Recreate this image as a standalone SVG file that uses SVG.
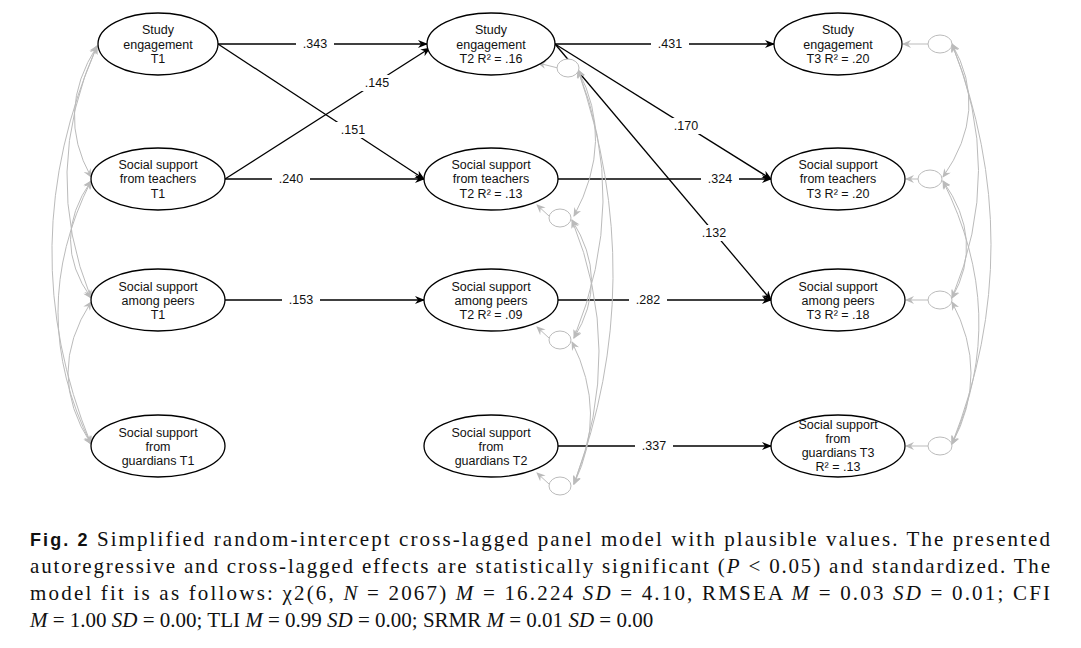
<svg xmlns="http://www.w3.org/2000/svg" width="1081" height="648" viewBox="0 0 1081 648">
<style>
.n{fill:#fff;stroke:#000;stroke-width:1.3}
.t{font-family:"Liberation Sans",Arial,sans-serif;font-size:12.5px;fill:#111;text-anchor:middle}
.p{stroke:#000;stroke-width:1.3;fill:none;marker-end:url(#a)}
.c{stroke:#bbb;stroke-width:1;fill:none;marker-end:url(#g);marker-start:url(#gs)}
.r{fill:#fff;stroke:#bbb;stroke-width:1}
.ra{stroke:#bbb;stroke-width:1;fill:none;marker-end:url(#g)}
.l{font-family:"Liberation Sans",Arial,sans-serif;font-size:12.5px;fill:#111;text-anchor:middle}
.cap{font-family:"Liberation Serif","Times New Roman",serif;font-size:21px;fill:#111}
</style>
<defs>
<marker id="a" markerWidth="10" markerHeight="8" refX="9" refY="4" orient="auto" markerUnits="userSpaceOnUse"><path d="M0,0L10,4L0,8L3,4Z" fill="#000"/></marker>
<marker id="g" markerWidth="9" markerHeight="8" refX="8" refY="4" orient="auto" markerUnits="userSpaceOnUse"><path d="M0,0L9,4L0,8L3,4Z" fill="#bbb"/></marker>
<marker id="gs" markerWidth="9" markerHeight="8" refX="1" refY="4" orient="auto" markerUnits="userSpaceOnUse"><path d="M9,0L0,4L9,8L6,4Z" fill="#bbb"/></marker>
</defs>
<g id="connectors">
<path class="p" d="M218,44H427"/>
<path class="p" d="M218,44L424,179"/>
<path class="p" d="M225,179L430,48"/>
<path class="p" d="M225,179H424"/>
<path class="p" d="M225,300H424"/>
<path class="p" d="M555,44H774"/>
<path class="p" d="M555,44L771,179"/>
<path class="p" d="M555,44L771,300"/>
<path class="p" d="M558,179H771"/>
<path class="p" d="M558,300H771"/>
<path class="p" d="M558,446H771"/>
<g fill="#fff">
<rect x="296" y="36" width="38" height="16"/><rect x="335" y="122" width="36" height="16"/><rect x="359" y="75" width="36" height="16"/>
<rect x="272" y="171" width="38" height="16"/><rect x="282" y="292" width="38" height="16"/><rect x="651" y="36" width="38" height="16"/>
<rect x="668" y="118" width="36" height="16"/><rect x="696" y="225" width="36" height="16"/><rect x="701" y="171" width="38" height="16"/>
<rect x="629" y="292" width="38" height="16"/><rect x="635" y="438" width="38" height="16"/>
</g>
<text class="l" x="315" y="48">.343</text><text class="l" x="353" y="134">.151</text><text class="l" x="377" y="87">.145</text>
<text class="l" x="291" y="183">.240</text><text class="l" x="301" y="304">.153</text><text class="l" x="670" y="48">.431</text>
<text class="l" x="686" y="130">.170</text><text class="l" x="714" y="237">.132</text><text class="l" x="720" y="183">.324</text>
<text class="l" x="648" y="304">.282</text><text class="l" x="654" y="450">.337</text>
<path class="c" d="M97,46Q55,112 91,177"/>
<path class="c" d="M97,46Q40,172 91,298"/>
<path class="c" d="M97,46Q10,246 91,444"/>
<path class="c" d="M91,181Q50,240 91,298"/>
<path class="c" d="M91,181Q25,312 91,444"/>
<path class="c" d="M91,302Q45,373 91,444"/>
<path class="c" d="M578,70Q615,140 574,216"/>
<path class="c" d="M578,70Q630,200 574,338"/>
<path class="c" d="M578,70Q650,280 574,484"/>
<path class="c" d="M572,220Q610,280 574,338"/>
<path class="c" d="M572,220Q625,350 574,484"/>
<path class="c" d="M572,342Q608,413 574,484"/>
<path class="c" d="M952,44Q990,110 943,177"/>
<path class="c" d="M952,44Q1005,170 952,298"/>
<path class="c" d="M952,44Q1030,245 952,444"/>
<path class="c" d="M943,181Q985,240 952,298"/>
<path class="c" d="M943,181Q1010,315 952,444"/>
<path class="c" d="M952,302Q990,373 952,444"/>
</g>
<g id="residuals">
<path class="ra" d="M558,68L538,63"/><ellipse class="r" cx="568" cy="68" rx="11" ry="9"/>
<path class="ra" d="M549,216L537,205"/><ellipse class="r" cx="560" cy="218" rx="11" ry="9"/>
<path class="ra" d="M549,338L537,327"/><ellipse class="r" cx="560" cy="340" rx="11" ry="9"/>
<path class="ra" d="M549,484L537,473"/><ellipse class="r" cx="560" cy="486" rx="11" ry="9"/>
<path class="ra" d="M928,44H903"/><ellipse class="r" cx="940" cy="44" rx="12" ry="9"/>
<path class="ra" d="M918,179H906"/><ellipse class="r" cx="930" cy="179" rx="12" ry="9"/>
<path class="ra" d="M928,300H906"/><ellipse class="r" cx="940" cy="300" rx="12" ry="9"/>
<path class="ra" d="M928,446H906"/><ellipse class="r" cx="940" cy="446" rx="12" ry="9"/>
</g>
<g id="se1"><ellipse class="n" cx="158" cy="44" rx="60" ry="31"/><text class="t" x="158" y="34">Study</text><text class="t" x="158" y="49">engagement</text><text class="t" x="158" y="63">T1</text></g>
<g id="te1"><ellipse class="n" cx="158" cy="179" rx="67" ry="31"/><text class="t" x="158" y="169">Social support</text><text class="t" x="158" y="183">from teachers</text><text class="t" x="158" y="198">T1</text></g>
<g id="pe1"><ellipse class="n" cx="158" cy="300" rx="67" ry="31"/><text class="t" x="158" y="291">Social support</text><text class="t" x="158" y="305">among peers</text><text class="t" x="158" y="319">T1</text></g>
<g id="gu1"><ellipse class="n" cx="158" cy="446" rx="67" ry="31"/><text class="t" x="158" y="437">Social support</text><text class="t" x="158" y="451">from</text><text class="t" x="158" y="465">guardians T1</text></g>
<g id="se2"><ellipse class="n" cx="491" cy="44" rx="64" ry="31"/><text class="t" x="491" y="34">Study</text><text class="t" x="491" y="49">engagement</text><text class="t" x="491" y="63">T2 R² = .16</text></g>
<g id="te2"><ellipse class="n" cx="491" cy="179" rx="67" ry="31"/><text class="t" x="491" y="169">Social support</text><text class="t" x="491" y="183">from teachers</text><text class="t" x="491" y="198">T2 R² = .13</text></g>
<g id="pe2"><ellipse class="n" cx="491" cy="300" rx="67" ry="31"/><text class="t" x="491" y="291">Social support</text><text class="t" x="491" y="305">among peers</text><text class="t" x="491" y="319">T2 R² = .09</text></g>
<g id="gu2"><ellipse class="n" cx="491" cy="446" rx="67" ry="31"/><text class="t" x="491" y="437">Social support</text><text class="t" x="491" y="451">from</text><text class="t" x="491" y="465">guardians T2</text></g>
<g id="se3"><ellipse class="n" cx="838" cy="44" rx="64" ry="31"/><text class="t" x="838" y="34">Study</text><text class="t" x="838" y="49">engagement</text><text class="t" x="838" y="63">T3 R² = .20</text></g>
<g id="te3"><ellipse class="n" cx="838" cy="179" rx="67" ry="31"/><text class="t" x="838" y="169">Social support</text><text class="t" x="838" y="183">from teachers</text><text class="t" x="838" y="198">T3 R² = .20</text></g>
<g id="pe3"><ellipse class="n" cx="838" cy="300" rx="67" ry="31"/><text class="t" x="838" y="291">Social support</text><text class="t" x="838" y="305">among peers</text><text class="t" x="838" y="319">T3 R² = .18</text></g>
<g id="gu3"><ellipse class="n" cx="838" cy="446" rx="67" ry="31"/><text class="t" x="838" y="429">Social support</text><text class="t" x="838" y="443">from</text><text class="t" x="838" y="457">guardians T3</text><text class="t" x="838" y="471">R² = .13</text></g>
<g id="caption">
<text class="cap" x="30" y="546" textLength="1020" lengthAdjust="spacing"><tspan font-family="Liberation Sans,Arial,sans-serif" font-weight="bold" font-size="18">Fig. 2</tspan> Simplified random-intercept cross-lagged panel model with plausible values. The presented</text>
<text class="cap" x="30" y="573" textLength="1020" lengthAdjust="spacing">autoregressive and cross-lagged effects are statistically significant (<tspan font-style="italic">P</tspan> &lt; 0.05) and standardized. The</text>
<text class="cap" x="30" y="600" textLength="1020" lengthAdjust="spacing">model fit is as follows: χ2(6, <tspan font-style="italic">N</tspan> = 2067) <tspan font-style="italic">M</tspan> = 16.224  <tspan font-style="italic">SD</tspan> = 4.10, RMSEA <tspan font-style="italic">M</tspan> = 0.03  <tspan font-style="italic">SD</tspan> = 0.01; CFI</text>
<text class="cap" x="30" y="627"><tspan font-style="italic">M</tspan> = 1.00 <tspan font-style="italic">SD</tspan> = 0.00; TLI <tspan font-style="italic">M</tspan> = 0.99 <tspan font-style="italic">SD</tspan> = 0.00; SRMR <tspan font-style="italic">M</tspan> = 0.01 <tspan font-style="italic">SD</tspan> = 0.00</text>
</g>
</svg>
